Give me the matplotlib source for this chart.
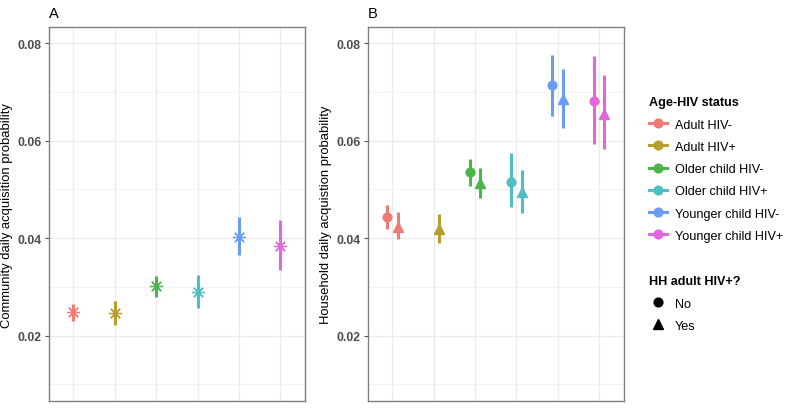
import numpy as np
import matplotlib
matplotlib.use("Agg")
import matplotlib.pyplot as plt
from matplotlib.lines import Line2D

plt.rcParams['font.family'] = ['Liberation Sans', 'DejaVu Sans']

groups = ["Adult HIV-", "Adult HIV+", "Older child HIV-", "Older child HIV+",
          "Younger child HIV-", "Younger child HIV+"]
colors = ["#EE7A73", "#B89E2A", "#4CB54A", "#4EBFC3", "#6A9BF6", "#E068DC"]

# Panel A: community
comm_est = [0.0249, 0.0246, 0.0301, 0.0289, 0.0403, 0.0385]
comm_lo = [0.0231, 0.0222, 0.0280, 0.0257, 0.0366, 0.0335]
comm_hi = [0.0265, 0.0272, 0.0322, 0.0325, 0.0443, 0.0437]

# Panel B: household, HH adult HIV+? = No
hh_no_est = [0.0443, np.nan, 0.0535, 0.0515, 0.0714, 0.0681]
hh_no_lo = [0.0419, np.nan, 0.0508, 0.0465, 0.0650, 0.0593]
hh_no_hi = [0.0469, np.nan, 0.0562, 0.0574, 0.0776, 0.0773]
# HH adult HIV+? = Yes
hh_yes_est = [0.0424, 0.0419, 0.0513, 0.0494, 0.0686, 0.0655]
hh_yes_lo = [0.0399, 0.0390, 0.0483, 0.0451, 0.0627, 0.0584]
hh_yes_hi = [0.0453, 0.0450, 0.0544, 0.0539, 0.0747, 0.0734]

hh_labels = ["No", "Yes"]
yticks = [0.02, 0.04, 0.06, 0.08]

W, H = 788, 410
fig = plt.figure(figsize=(W / 100, H / 100), dpi=100)

def px_axes(l, r, t, b):
    return fig.add_axes([l / W, (H - b) / H, (r - l) / W, (b - t) / H])

axA = px_axes(48.5, 305.3, 28, 402.3)
axB = px_axes(367.7, 623.7, 28, 402.3)

tick_col = "#4D4D4D"
for ax in (axA, axB):
    ax.set_xlim(0.4, 6.6)
    ax.set_ylim(0.00654, 0.08334)
    ax.set_xticks(range(1, 7))
    ax.set_xticklabels([])
    ax.tick_params(axis='x', length=0)
    ax.set_yticks(yticks)
    ax.set_yticks([0.01, 0.03, 0.05, 0.07], minor=True)
    ax.set_yticklabels([f"{v:.2f}" for v in yticks], fontsize=8.8,
                       fontweight='bold', color=tick_col)
    ax.tick_params(axis='y', which='major', length=3, width=0.8, color="#555555", pad=2)
    ax.tick_params(axis='y', which='minor', length=0)
    ax.grid(True, which='major', color="#EBEBEB", lw=1.0)
    ax.grid(True, which='minor', axis='y', color="#F2F2F2", lw=0.6)
    ax.set_axisbelow(True)
    for s in ax.spines.values():
        s.set_color("#7F7F7F")
        s.set_linewidth(1.0)

x = np.arange(1, 7)
# Panel A
for i in range(6):
    axA.vlines(x[i], comm_lo[i], comm_hi[i], color=colors[i], lw=2.2)
    axA.plot(x[i], comm_est[i], marker=(8, 2, 0), color=colors[i],
             markersize=9.5, markeredgewidth=0.9, linestyle='none')
axA.set_ylabel("Community daily acquisition probability", fontsize=9.4, labelpad=3)
axA.text(0.0, 1.02, "A", transform=axA.transAxes, fontsize=10.5, ha='left', va='bottom')

# Panel B
off = 0.13
for i in range(6):
    if not np.isnan(hh_no_est[i]):
        axB.vlines(x[i] - off, hh_no_lo[i], hh_no_hi[i], color=colors[i], lw=2.2)
        axB.plot(x[i] - off, hh_no_est[i], marker='o', color=colors[i],
                 markersize=6.3, linestyle='none')
    if not np.isnan(hh_yes_est[i]):
        axB.vlines(x[i] + off, hh_yes_lo[i], hh_yes_hi[i], color=colors[i], lw=2.2)
        axB.plot(x[i] + off, hh_yes_est[i], marker='^', color=colors[i],
                 markersize=7.6, linestyle='none')
axB.set_ylabel("Household daily acquistion probability", fontsize=9.4, labelpad=3)
axB.text(0.0, 1.02, "B", transform=axB.transAxes, fontsize=10.5, ha='left', va='bottom')

# Legends
h1 = [Line2D([0], [0], color=c, lw=2.2, marker='o', markersize=6.3) for c in colors]
leg1 = fig.legend(h1, groups, title="Age-HIV status", loc='upper left',
                  bbox_to_anchor=(638 / W, (H - 86) / H), frameon=False,
                  fontsize=9.1, title_fontproperties={'weight': 'bold', 'size': 9.1},
                  handlelength=1.4, handletextpad=0.6, labelspacing=0.81,
                  alignment='left')
h2 = [Line2D([0], [0], color='black', lw=0, marker='o', markersize=6.3),
      Line2D([0], [0], color='black', lw=0, marker='^', markersize=7.6)]
leg2 = fig.legend(h2, hh_labels, title="HH adult HIV+?", loc='upper left',
                  bbox_to_anchor=(638 / W, (H - 265) / H), frameon=False,
                  fontsize=9.1, title_fontproperties={'weight': 'bold', 'size': 9.1},
                  handlelength=1.4, handletextpad=0.6, labelspacing=0.81,
                  alignment='left')

fig.savefig("out.png", dpi=100)
